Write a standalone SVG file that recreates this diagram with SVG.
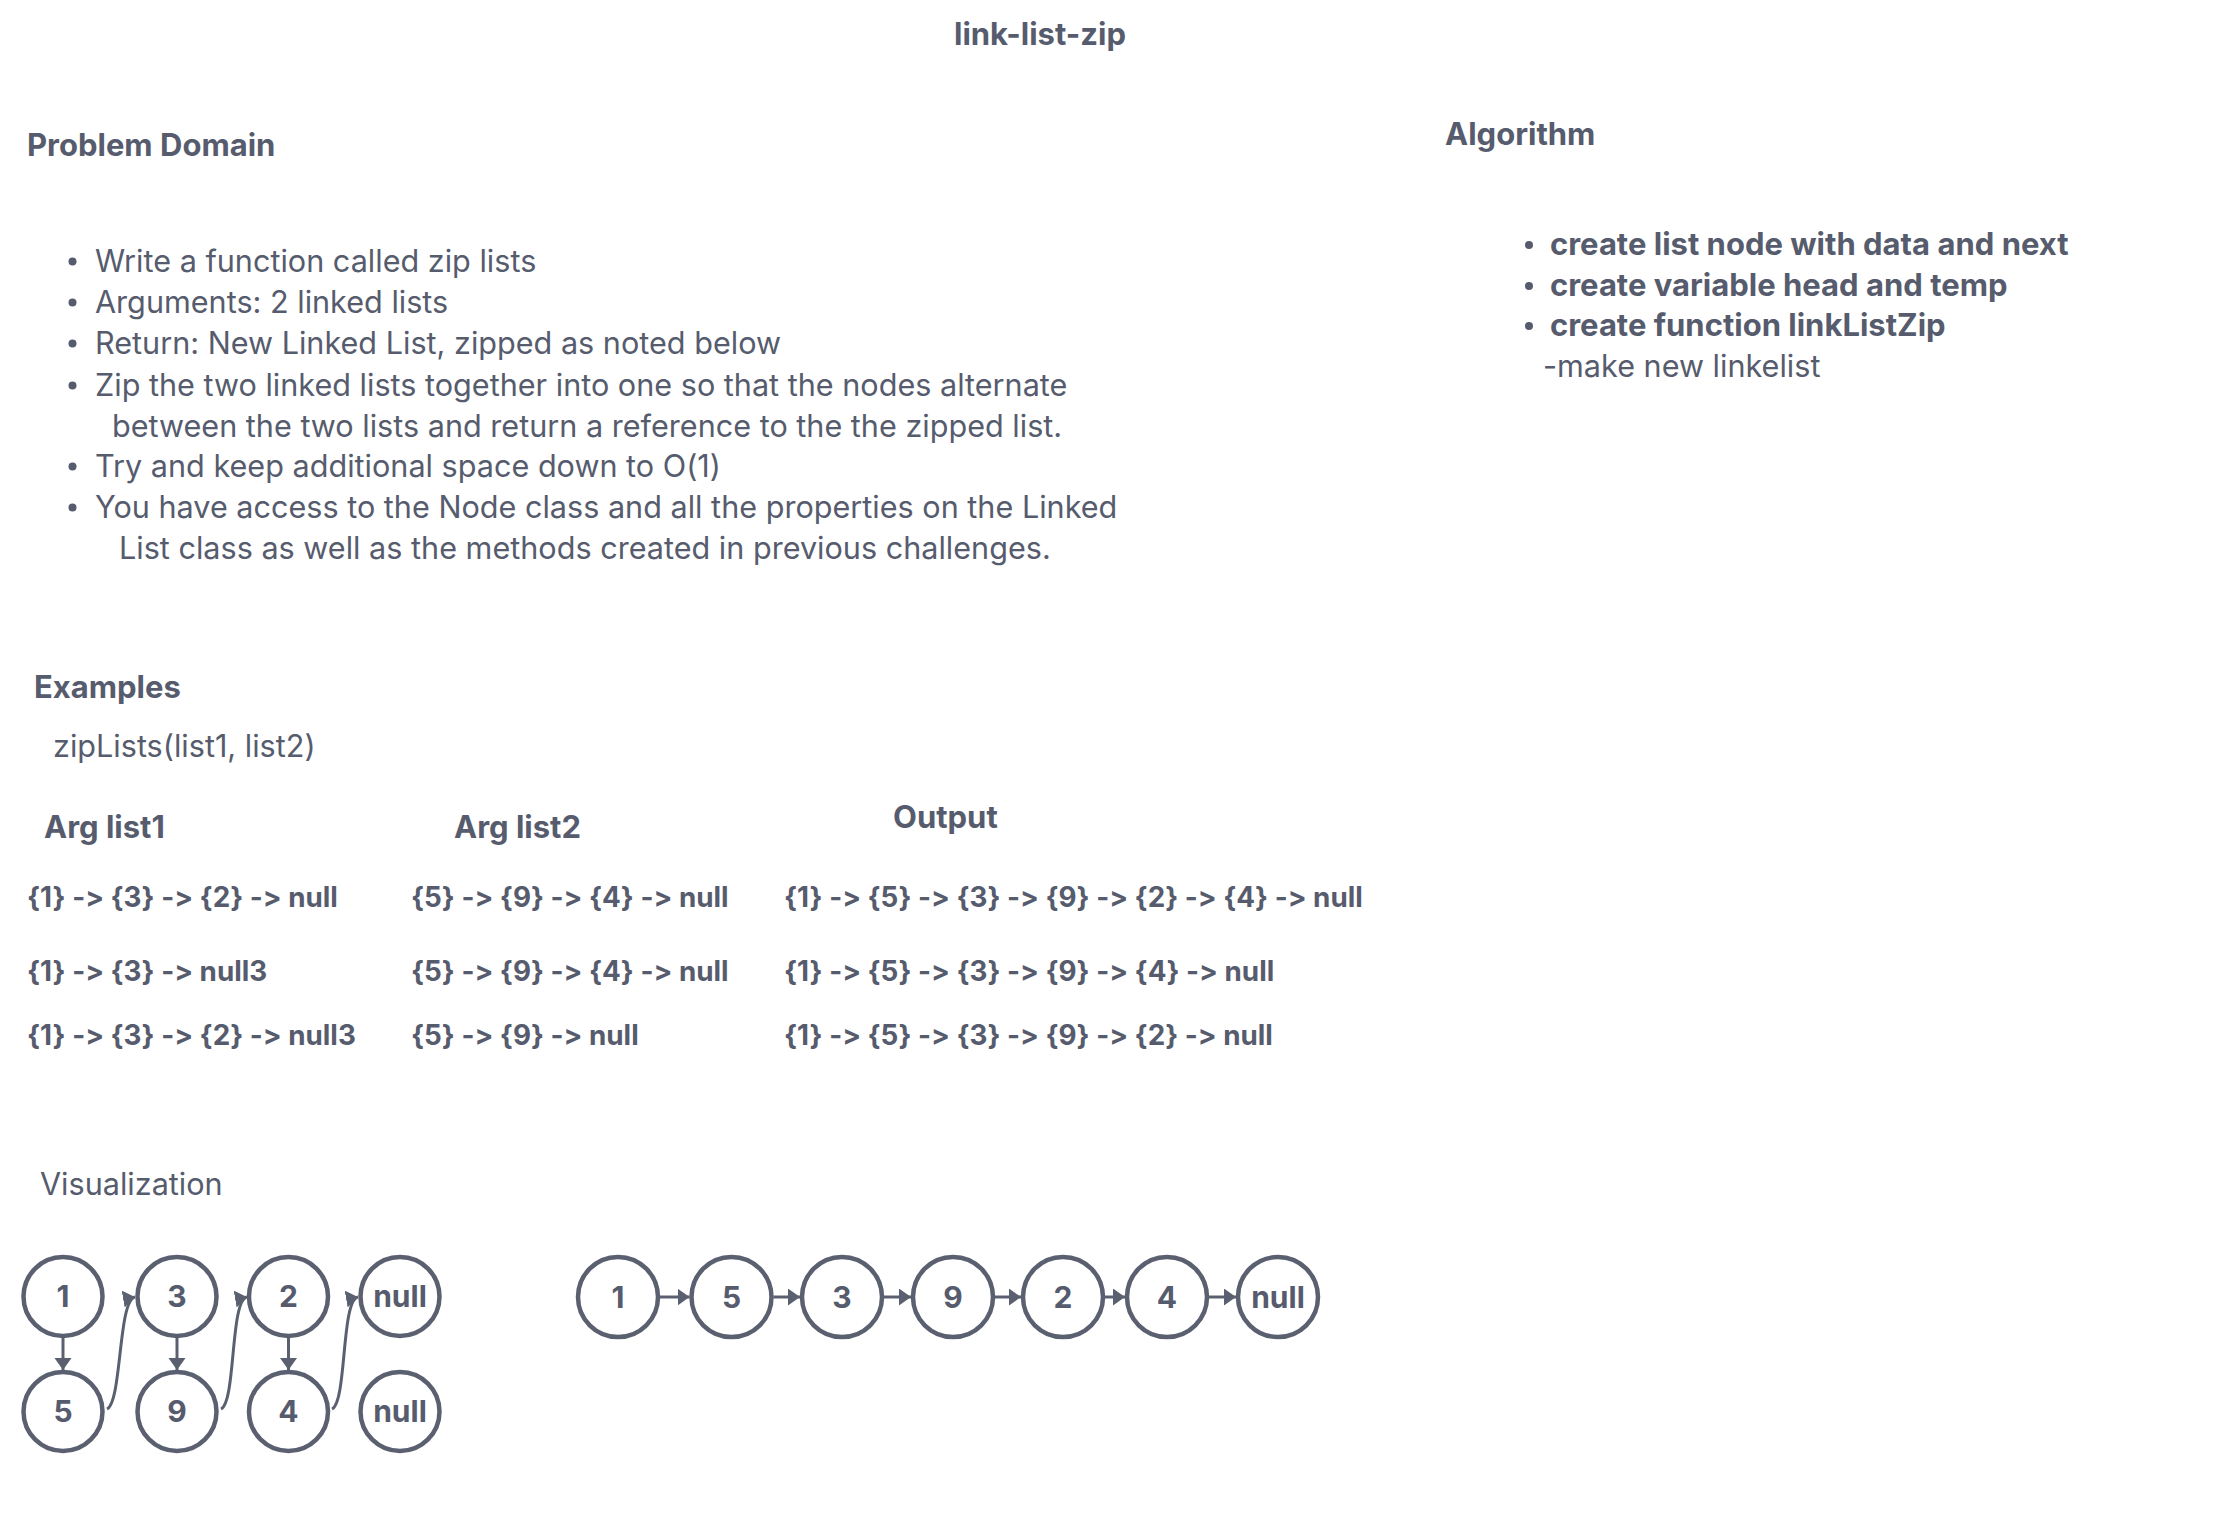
<svg xmlns="http://www.w3.org/2000/svg" width="2230" height="1540" viewBox="0 0 2230 1540">
<defs>
<style>
text{font-family:Inter,"Noto Sans","Liberation Sans",sans-serif;fill:#565c6d;font-variant-ligatures:none;font-feature-settings:"calt" 0,"liga" 0}
.h{font-size:31px;font-weight:700}
.b{font-size:30.6px;font-weight:400}
.bb{font-size:31px;font-weight:700}
.ex{font-size:27.8px;font-weight:700}
.n{font-size:30px;font-weight:700;text-anchor:middle}
.c{fill:#ffffff;stroke:#5a6070;stroke-width:4.5}
.l{fill:none;stroke:#5a6070;stroke-width:3}
.dot{fill:#565c6d}
</style>
<marker id="ah" markerUnits="userSpaceOnUse" markerWidth="14" markerHeight="18" refX="12" refY="8.5" orient="auto">
<path d="M0,0 L12,8.5 L0,17 z" fill="#5a6070"/>
</marker>
</defs>
<rect width="2230" height="1540" fill="#ffffff"/>

<g id="title"><text class="h" x="1040" y="45" text-anchor="middle">link-list-zip</text></g>

<g id="problem-domain">
<text class="h" x="27" y="156">Problem Domain</text>
<circle class="dot" cx="72.5" cy="261.5" r="4"/><text class="b" x="95" y="271.5">Write a function called zip lists</text>
<circle class="dot" cx="72.5" cy="302.5" r="4"/><text class="b" x="95" y="312.5">Arguments: 2 linked lists</text>
<circle class="dot" cx="72.5" cy="343.5" r="4"/><text class="b" x="95" y="353.5">Return: New Linked List, zipped as noted below</text>
<circle class="dot" cx="72.5" cy="385.5" r="4"/><text class="b" x="95" y="395.5">Zip the two linked lists together into one so that the nodes alternate</text>
<text class="b" x="112" y="436.5">between the two lists and return a reference to the the zipped list.</text>
<circle class="dot" cx="72.5" cy="466.5" r="4"/><text class="b" x="95" y="476.5">Try and keep additional space down to O(1)</text>
<circle class="dot" cx="72.5" cy="507.5" r="4"/><text class="b" x="95" y="517.5">You have access to the Node class and all the properties on the Linked</text>
<text class="b" x="119" y="558.5">List class as well as the methods created in previous challenges.</text>
</g>

<g id="algorithm">
<text class="h" x="1445" y="145">Algorithm</text>
<circle class="dot" cx="1529" cy="245" r="4"/><text class="bb" x="1550" y="255">create list node with data and next</text>
<circle class="dot" cx="1529" cy="286" r="4"/><text class="bb" x="1550" y="296">create variable head and temp</text>
<circle class="dot" cx="1529" cy="326" r="4"/><text class="bb" x="1550" y="336">create function linkListZip</text>
<text class="b" x="1543" y="377">-make new linkelist</text>
</g>

<g id="examples">
<text class="h" x="34" y="698">Examples</text>
<text class="b" x="53" y="756.5">zipLists(list1, list2)</text>
<text class="h" x="44" y="838">Arg list1</text>
<text class="h" x="454" y="838">Arg list2</text>
<text class="h" x="893" y="828">Output</text>
<text class="ex" x="27" y="907">{1} -&gt; {3} -&gt; {2} -&gt; null</text>
<text class="ex" x="411" y="907">{5} -&gt; {9} -&gt; {4} -&gt; null</text>
<text class="ex" x="784" y="907">{1} -&gt; {5} -&gt; {3} -&gt; {9} -&gt; {2} -&gt; {4} -&gt; null</text>
<text class="ex" x="27" y="981">{1} -&gt; {3} -&gt; null3</text>
<text class="ex" x="411" y="981">{5} -&gt; {9} -&gt; {4} -&gt; null</text>
<text class="ex" x="784" y="981">{1} -&gt; {5} -&gt; {3} -&gt; {9} -&gt; {4} -&gt; null</text>
<text class="ex" x="27" y="1045">{1} -&gt; {3} -&gt; {2} -&gt; null3</text>
<text class="ex" x="411" y="1045">{5} -&gt; {9} -&gt; null</text>
<text class="ex" x="784" y="1045">{1} -&gt; {5} -&gt; {3} -&gt; {9} -&gt; {2} -&gt; null</text>
</g>

<g id="visualization-label"><text class="b" x="40" y="1194.5">Visualization</text></g>

<g id="connectors">
<line class="l" x1="63" y1="1338" x2="63" y2="1370" marker-end="url(#ah)"/>
<line class="l" x1="177" y1="1338" x2="177" y2="1370" marker-end="url(#ah)"/>
<line class="l" x1="288.5" y1="1338" x2="288.5" y2="1370" marker-end="url(#ah)"/>
<path class="l" d="M107,1409 C122,1402 118,1300 135,1297" marker-end="url(#ah)"/>
<path class="l" d="M221,1409 C236,1402 230,1300 247,1297" marker-end="url(#ah)"/>
<path class="l" d="M332,1409 C347,1402 341,1300 358,1297" marker-end="url(#ah)"/>
<line class="l" x1="660" y1="1297" x2="689.5" y2="1297" marker-end="url(#ah)"/>
<line class="l" x1="773.5" y1="1297" x2="800" y2="1297" marker-end="url(#ah)"/>
<line class="l" x1="884" y1="1297" x2="911" y2="1297" marker-end="url(#ah)"/>
<line class="l" x1="995" y1="1297" x2="1021" y2="1297" marker-end="url(#ah)"/>
<line class="l" x1="1105" y1="1297" x2="1125" y2="1297" marker-end="url(#ah)"/>
<line class="l" x1="1209" y1="1297" x2="1236" y2="1297" marker-end="url(#ah)"/>
</g>

<g id="node-l1"><circle class="c" cx="63" cy="1296.5" r="39.5"/><text class="n" x="63" y="1307">1</text></g>
<g id="node-l3"><circle class="c" cx="177" cy="1296.5" r="39.5"/><text class="n" x="177" y="1307">3</text></g>
<g id="node-l2"><circle class="c" cx="288.5" cy="1296.5" r="39.5"/><text class="n" x="288.5" y="1307">2</text></g>
<g id="node-lnull1"><circle class="c" cx="400" cy="1296.5" r="39.5"/><text class="n" x="400" y="1307">null</text></g>
<g id="node-l5"><circle class="c" cx="63" cy="1411.5" r="39.5"/><text class="n" x="63" y="1422">5</text></g>
<g id="node-l9"><circle class="c" cx="177" cy="1411.5" r="39.5"/><text class="n" x="177" y="1422">9</text></g>
<g id="node-l4"><circle class="c" cx="288.5" cy="1411.5" r="39.5"/><text class="n" x="288.5" y="1422">4</text></g>
<g id="node-lnull2"><circle class="c" cx="400" cy="1411.5" r="39.5"/><text class="n" x="400" y="1422">null</text></g>

<g id="node-r1"><circle class="c" cx="618" cy="1297" r="40"/><text class="n" x="618" y="1307.5">1</text></g>
<g id="node-r5"><circle class="c" cx="731.5" cy="1297" r="40"/><text class="n" x="731.5" y="1307.5">5</text></g>
<g id="node-r3"><circle class="c" cx="842" cy="1297" r="40"/><text class="n" x="842" y="1307.5">3</text></g>
<g id="node-r9"><circle class="c" cx="953" cy="1297" r="40"/><text class="n" x="953" y="1307.5">9</text></g>
<g id="node-r2"><circle class="c" cx="1063" cy="1297" r="40"/><text class="n" x="1063" y="1307.5">2</text></g>
<g id="node-r4"><circle class="c" cx="1167" cy="1297" r="40"/><text class="n" x="1167" y="1307.5">4</text></g>
<g id="node-rnull"><circle class="c" cx="1278" cy="1297" r="40"/><text class="n" x="1278" y="1307.5">null</text></g>
</svg>
